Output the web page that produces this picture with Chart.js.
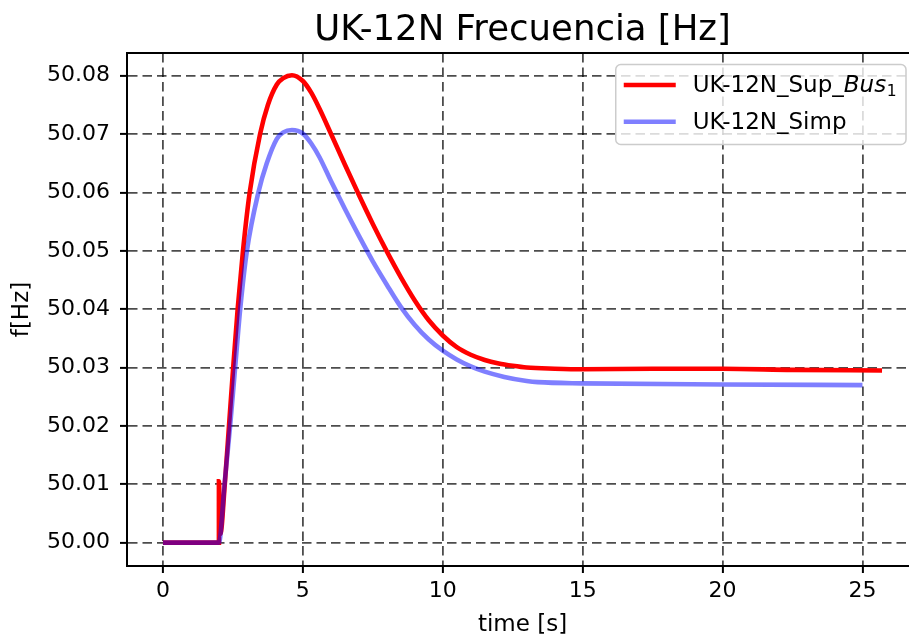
<!DOCTYPE html>
<html>
<head>
<meta charset="utf-8">
<title>UK-12N Frecuencia</title>
<script src="https://cdn.jsdelivr.net/npm/chart.js@4.4.1/dist/chart.umd.min.js"></script>
<style>
  html, body { margin: 0; padding: 0; background: #fff; overflow: hidden; }
  #wrap { width: 920px; height: 639px; }
</style>
</head>
<body>
<div id="wrap"><canvas id="chart-freq"></canvas></div>
<script>
// frequency response, detailed model (bus 1)
var supTime = [0, 2.0, 2.0, 2.05, 2.21, 2.36, 2.51, 2.67, 2.86, 3.1, 3.47, 3.75, 4.07, 4.3, 4.61,
  5.0, 5.3, 5.6, 6.0, 6.5, 7.0, 7.5, 8.0, 8.5, 9.0, 9.5, 10.0, 10.5, 11.0, 11.5, 12.0, 12.5, 13.0,
  14.0, 15.0, 17.5, 20.0, 22.5, 25.7];
var supFreq = [50, 50, 50.0105, 50.0015, 50.01, 50.02, 50.03, 50.04, 50.05, 50.06, 50.07, 50.075, 50.0785, 50.0796, 50.0801,
  50.0791, 50.0771, 50.0743, 50.0701, 50.0648, 50.0596, 50.0546, 50.0499, 50.0455, 50.0415, 50.0381, 50.0355, 50.0335, 50.0322, 50.0313, 50.0307, 50.0303, 50.03,
  50.0298, 50.0297, 50.0298, 50.0298, 50.0296, 50.0295];

// frequency response, simplified model
var simpTime = [0, 2.0, 2.2, 2.4, 2.58, 2.76, 3.0, 3.41, 3.71, 4.07, 4.3, 4.61,
  5.0, 5.3, 5.6, 6.0, 6.5, 7.0, 7.5, 8.0, 8.5, 9.0, 9.5, 10.0, 10.5, 11.0, 11.5, 12.2, 13.0, 13.4, 15, 20, 25];
var simpFreq = [50, 50, 50.01, 50.02, 50.03, 50.04, 50.05, 50.06, 50.065, 50.0692, 50.0703, 50.0707,
  50.0701, 50.0684, 50.066, 50.062, 50.0572, 50.0526, 50.0482, 50.0442, 50.0404, 50.0373, 50.0348, 50.0329, 50.0314, 50.0302, 50.0293, 50.0284, 50.0277, 50.0275, 50.0273, 50.0271, 50.027];

var xTickStep = 5;
var yTickStep = 0.01;
var xRange = [-1.285, 26.985];
var yRange = [49.996, 50.0839];

var FONT = '"DejaVu Sans", sans-serif';
var RED = '#ff0000';
var BLUE = 'rgba(0, 0, 255, 0.5)';

function toPoints(xs, ys) {
  return xs.map((x, i) => ({ x: x, y: ys[i] }));
}

// title, top spine and a matplotlib style legend
var decorations = {
  id: 'decorations',
  afterDraw: function (chart) {
    let ctx = chart.ctx;
    let area = chart.chartArea;
    ctx.save();

    ctx.strokeStyle = '#000';
    ctx.lineWidth = 2;
    ctx.beginPath();
    ctx.moveTo(area.left - 1, area.top);
    ctx.lineTo(area.right, area.top);
    ctx.stroke();

    ctx.fillStyle = '#000';
    ctx.font = '35.5px ' + FONT;
    ctx.textAlign = 'center';
    ctx.textBaseline = 'alphabetic';
    ctx.fillText('UK-12N Frecuencia [Hz]', (area.left + area.right) / 2, area.top - 13.5);

    // legend
    let fs = 23;
    ctx.font = fs + 'px ' + FONT;
    let w1a = ctx.measureText('UK-12N_Sup_').width;
    ctx.font = 'italic ' + fs + 'px ' + FONT;
    let w1b = ctx.measureText('Bus').width;
    ctx.font = '15.5px ' + FONT;
    let w1c = ctx.measureText('1').width;
    ctx.font = fs + 'px ' + FONT;
    let w2 = ctx.measureText('UK-12N_Simp').width;
    let textW = Math.max(w1a + w1b + w1c, w2);

    let right = area.right - 12;
    let top = area.top + 11.5;
    let boxW = 77 + textW + 10;
    let left = right - boxW;
    let boxH = 80;

    ctx.beginPath();
    ctx.roundRect(left, top, boxW, boxH, 5);
    ctx.fillStyle = 'rgba(255,255,255,0.8)';
    ctx.fill();
    ctx.strokeStyle = '#cccccc';
    ctx.lineWidth = 1.5;
    ctx.stroke();

    let rows = [top + 20.5, top + 57.2];
    let colors = [RED, BLUE];
    ctx.lineWidth = 4.6;
    rows.forEach((y, i) => {
      ctx.strokeStyle = colors[i];
      ctx.beginPath();
      ctx.moveTo(left + 8, y);
      ctx.lineTo(left + 60, y);
      ctx.stroke();
    });

    ctx.fillStyle = '#000';
    ctx.textAlign = 'left';
    let tx = left + 77;
    ctx.font = fs + 'px ' + FONT;
    ctx.fillText('UK-12N_Sup_', tx, rows[0] + 7.3);
    ctx.font = 'italic ' + fs + 'px ' + FONT;
    ctx.fillText('Bus', tx + w1a, rows[0] + 7.3);
    ctx.font = '15.5px ' + FONT;
    ctx.fillText('1', tx + w1a + w1b + 0.5, rows[0] + 10.8);
    ctx.font = fs + 'px ' + FONT;
    ctx.fillText('UK-12N_Simp', tx, rows[1] + 7.3);

    ctx.restore();
  },
};

var gridStyle = {
  color: 'rgba(0, 0, 0, 0.7)',
  lineWidth: 1.8,
  drawTicks: true,
  tickLength: 7,
  tickWidth: 2,
  tickColor: '#000',
  tickBorderDash: [],
};

var ctx = document.getElementById('chart-freq').getContext('2d');
var chart = new Chart(ctx, {
  type: 'line',
  plugins: [decorations],
  data: {
    datasets: [
      {
        label: 'UK-12N_Sup_Bus1',
        data: toPoints(supTime, supFreq),
        borderColor: RED,
        borderWidth: 4.6,
        pointRadius: 0,
        cubicInterpolationMode: 'monotone',
        order: 2,
      },
      {
        label: 'UK-12N_Simp',
        data: toPoints(simpTime, simpFreq),
        borderColor: BLUE,
        borderWidth: 4.6,
        pointRadius: 0,
        cubicInterpolationMode: 'monotone',
        order: 1,
      },
    ],
  },
  options: {
    responsive: true,
    maintainAspectRatio: false,
    animation: false,
    layout: { padding: { top: 53, right: 2, left: 0, bottom: 0 } },
    plugins: {
      legend: { display: false },
      tooltip: { enabled: false },
      title: { display: false },
    },
    scales: {
      x: {
        type: 'linear',
        min: xRange[0],
        max: xRange[1],
        grid: gridStyle,
        border: { display: true, color: '#000', width: 2, dash: [9.5, 5] },
        ticks: {
          stepSize: xTickStep,
          includeBounds: false,
          color: '#000',
          padding: 5,
          font: { family: FONT, size: 22 },
          callback: (v) => String(v),
        },
        title: {
          display: true,
          text: 'time [s]',
          color: '#000',
          font: { family: FONT, size: 23 },
          padding: { top: 0, bottom: 0.5 },
        },
        afterFit: (scale) => { scale.height = 73; },
      },
      y: {
        type: 'linear',
        min: yRange[0],
        max: yRange[1],
        grid: gridStyle,
        border: { display: true, color: '#000', width: 2, dash: [9.5, 5] },
        ticks: {
          stepSize: yTickStep,
          includeBounds: false,
          color: '#000',
          padding: 10,
          font: { family: FONT, size: 22 },
          callback: (v) => v.toFixed(2),
        },
        title: {
          display: true,
          text: 'f[Hz]',
          color: '#000',
          font: { family: FONT, size: 23 },
          padding: { top: 8, bottom: 0 },
        },
        afterFit: (scale) => { scale.width = 127; },
      },
    },
  },
});
</script>
</body>
</html>
